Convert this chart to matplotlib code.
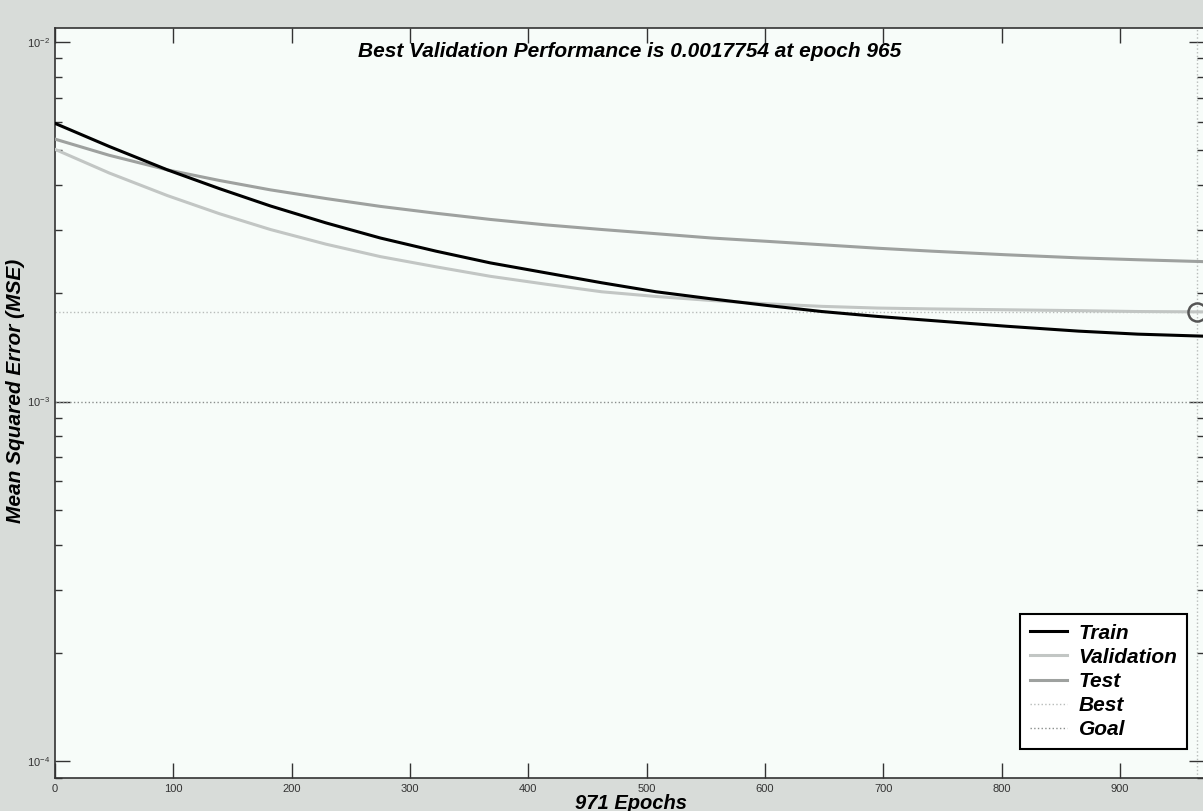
import matplotlib
matplotlib.use("Agg")
import matplotlib.pyplot as plt
from matplotlib.ticker import LogLocator, FixedLocator, NullFormatter

plt.rcParams['font.family'] = ['Liberation Sans', 'DejaVu Sans']

# values
epochs = [0, 46, 95, 139, 182, 229, 275, 322, 368, 415, 462,
          508, 555, 602, 648, 695, 741, 804, 865, 915, 971]
train = [0.00594, 0.00512, 0.00441, 0.00391, 0.00350, 0.00314, 0.00285,
         0.00262, 0.00243, 0.00228, 0.00214, 0.00202, 0.00193, 0.00185,
         0.00178, 0.001725, 0.00168, 0.00162, 0.00157, 0.00154, 0.00152]
valid = [0.00503, 0.00432, 0.00374, 0.00333, 0.00301, 0.00274, 0.00253,
         0.00237, 0.00223, 0.00212, 0.00202, 0.00196, 0.00191, 0.00187,
         0.00184, 0.00182, 0.00181, 0.00180, 0.00179, 0.00178, 0.001776]
test = [0.00537, 0.00484, 0.00441, 0.00412, 0.00388, 0.00367, 0.00349,
        0.00334, 0.00321, 0.00310, 0.00301, 0.00293, 0.00285, 0.00279,
        0.00273, 0.00267, 0.00262, 0.00256, 0.00251, 0.00248, 0.00245]
best_epoch = 965
best_perf = 0.0017754
goal = 0.001
n_epochs = 971
xticks = [0, 100, 200, 300, 400, 500, 600, 700, 800, 900]

fig = plt.figure(figsize=(12.03, 8.11), dpi=100, facecolor='#d8dcd9')
ax = fig.add_axes([55/1203, 33/811, 1149/1203, 750/811])
ax.set_facecolor('#f7fcf9')

ax.plot(epochs, train, color='black', lw=2.2, label='Train', zorder=4)
ax.plot(epochs, valid, color='#c2c6c4', lw=2.2, label='Validation', zorder=3)
ax.plot(epochs, test, color='#9ea19f', lw=2.2, label='Test', zorder=3)
ax.axhline(best_perf, color='#b8bcba', lw=1, ls=':', label='Best', zorder=2)
ax.axvline(best_epoch, color='#b8bcba', lw=1, ls=':', zorder=2)
ax.axhline(goal, color='#8a8e8c', lw=1, ls=':', label='Goal', zorder=2)
ax.plot([best_epoch], [best_perf], 'o', mfc='none', mec='#555555',
        ms=13, mew=1.8, clip_on=False, zorder=5)

ax.set_yscale('log')
ax.set_xlim(0, n_epochs)
ax.set_ylim(10**-4.047, 10**-1.961)

ax.xaxis.set_major_locator(FixedLocator(xticks))
ax.yaxis.set_major_locator(LogLocator(base=10, numticks=10))
ax.yaxis.set_minor_locator(LogLocator(base=10, subs=range(2, 10), numticks=20))
ax.yaxis.set_minor_formatter(NullFormatter())
ax.tick_params(which='both', direction='in', top=True, right=True,
               colors='#333333', labelsize=8, labelcolor='#333333')
ax.tick_params(which='major', length=11, width=1)
ax.tick_params(which='minor', length=5, width=1)
ax.tick_params(axis='x', pad=4)
for s in ax.spines.values():
    s.set_color('#333333')
    s.set_linewidth(1.2)

ax.text(0.5, 0.968, 'Best Validation Performance is 0.0017754 at epoch 965',
        transform=ax.transAxes, ha='center', va='center',
        fontsize=15, fontweight='bold', fontstyle='italic')
ax.text(0.501, -0.021, '971 Epochs', transform=ax.transAxes,
        ha='center', va='top', fontsize=14.5, fontweight='bold',
        fontstyle='italic')
ax.set_ylabel('Mean Squared Error (MSE)', fontsize=15,
              fontweight='bold', fontstyle='italic')
ax.yaxis.set_label_coords(-0.026, 0.516)

leg = ax.legend(loc='lower right', bbox_to_anchor=(0.985, 0.039),
                prop={'size': 15, 'weight': 'bold', 'style': 'italic'},
                frameon=True, fancybox=False, framealpha=1,
                edgecolor='black', facecolor='white',
                handlelength=1.8, handletextpad=0.55,
                labelspacing=0.25, borderpad=0.45, borderaxespad=0)
leg.get_frame().set_linewidth(1.5)

fig.savefig('out.png', dpi=100, facecolor=fig.get_facecolor())
